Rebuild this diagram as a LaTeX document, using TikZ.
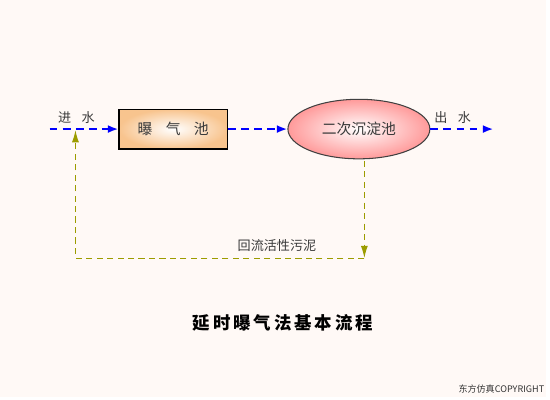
\documentclass[tikz,border=0pt]{standalone}
\usepackage{fontspec}
\setmainfont{Noto Sans CJK SC}
\newfontfamily\cjk{Noto Sans CJK SC}
\usetikzlibrary{arrows.meta,shapes.geometric}
\definecolor{bgcol}{HTML}{FFF9F6}
\definecolor{peach}{HTML}{F8C48E}
\definecolor{rosy}{HTML}{FF9A9A}
\definecolor{olive}{HTML}{9C9C00}
\definecolor{txt}{HTML}{3A3A3A}
\begin{document}
\begin{tikzpicture}[x=0.02cm,y=-0.02cm,
  box/.style={draw=black,line width=0.8pt,shading=radial,inner color=white,outer color=peach,
    minimum width=2.18cm,minimum height=0.8cm,inner sep=0pt,text=txt,font=\cjk\fontsize{8.5}{9}\selectfont},
  pond/.style={ellipse,draw=black!75,line width=0.6pt,shading=radial,inner color=white,outer color=rosy,
    minimum width=2.86cm,minimum height=1.2cm,inner sep=0pt,text=txt,font=\cjk\fontsize{8.5}{9}\selectfont},
  lab/.style={text=txt,inner sep=1pt,font=\cjk\fontsize{7.5}{8}\selectfont},
  flow/.style={blue,line width=1.2pt,dash pattern=on 4.5pt off 3pt,-{Latex[length=6pt,width=4.5pt]}},
  ret/.style={olive,line width=0.7pt,dash pattern=on 3.5pt off 2.5pt}]
%fond
\fill[bgcol] (0,0) rectangle (550,400);
%les bassins
\node[box] (aer) at (174.5,130) {曝\hspace{0.9em}气\hspace{0.9em}池};
\node[pond] (sec) at (361.5,130) {二次沉淀池};
\coordinate (in) at (50,130);
\coordinate (out) at (497,130);
\node[lab] (inlab) at (77,118) {进\hspace{0.8em}水};
\node[lab] (outlab) at (456,118) {出\hspace{0.8em}水};
%eau
\draw[flow] (in)--(aer.west);
\draw[flow] (aer.east)--(sec.west);
\draw[flow] (sec.east)--(out);
%boues de retour
\coordinate (rc) at (367,260);
\coordinate (lc) at (76,260);
\coordinate (lt) at (76,131);
\draw[ret,-{Latex[length=7pt,width=4pt]}] (367,162)--(rc);
\draw[ret,-{Latex[length=7pt,width=4pt]}] (rc)--(lc)--(lt);
\node[lab] (retlab) at (279,247) {回流活性污泥};
%titre
\node[font=\cjk\bfseries\fontsize{10}{10}\selectfont,text=black] (title) at (285,325)
  {延\,时\,曝\,气\,法\,基\,本\,流\,程};
\node[font=\cjk\fontsize{5.2}{6}\selectfont,text=black!80] (copy) at (505,392) {东方仿真COPYRIGHT};
\end{tikzpicture}
\end{document}
